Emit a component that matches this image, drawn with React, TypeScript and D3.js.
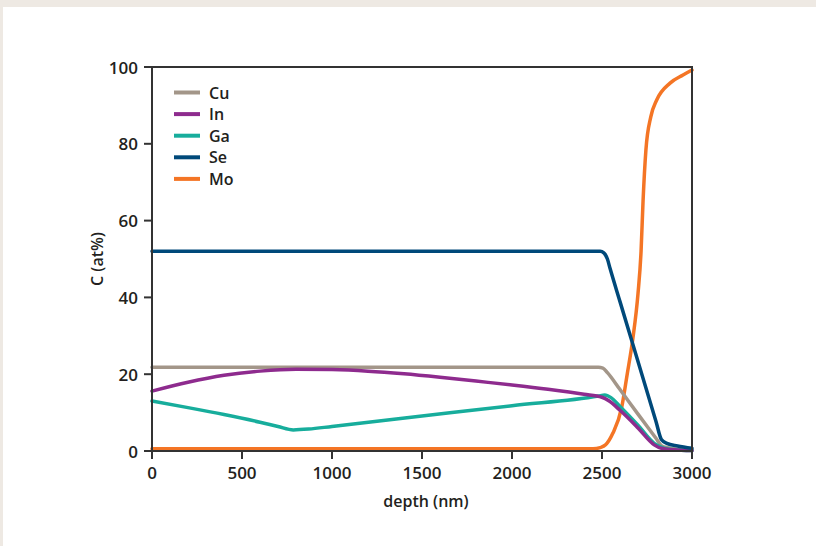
import React from "react";
import * as d3 from "d3";

const xTicks = [0, 500, 1000, 1500, 2000, 2500, 3000];
const yTicks = [0, 20, 40, 60, 80, 100];

const elements = ["Cu", "In", "Ga", "Se", "Mo"];
const colors = ["#a39689", "#8e2b8e", "#17ad9c", "#00497a", "#f47525"];

const cuDepth = [0, 500, 1000, 1500, 2000, 2480, 2505, 2530, 2600, 2700, 2800, 2830, 2870, 2930, 3000];
const cuValue = [21.8, 21.8, 21.8, 21.8, 21.8, 21.8, 21.6, 20.4, 16.0, 9.6, 3.3, 1.4, 0.8, 0.4, 0.2];

const inDepth = [0, 200, 400, 600, 800, 1000, 1200, 1400, 1600, 1800, 2000, 2200, 2400, 2500, 2540, 2600, 2700, 2790, 2830, 2900, 3000];
const inValue = [15.6, 17.9, 19.7, 20.8, 21.3, 21.2, 20.8, 20.1, 19.2, 18.2, 17.2, 16.1, 14.8, 14.0, 13.0, 10.6, 6.0, 1.6, 0.7, 0.3, 0.1];

const gaDepth = [0, 200, 400, 600, 700, 785, 870, 1000, 1500, 2000, 2480, 2515, 2550, 2600, 2700, 2790, 2840, 2900, 3000];
const gaValue = [13.0, 11.3, 9.5, 7.5, 6.4, 5.5, 5.7, 6.4, 9.1, 11.8, 14.3, 14.6, 13.9, 11.6, 6.7, 2.0, 0.8, 0.3, 0.1];

const seDepth = [0, 1000, 2000, 2490, 2510, 2530, 2545, 2600, 2700, 2800, 2830, 2860, 2920, 3000];
const seValue = [52, 52, 52, 52, 51.6, 50, 47.5, 38.9, 23.3, 7.7, 3.0, 2.0, 1.3, 0.7];

const moDepth = [0, 1000, 2000, 2450, 2490, 2520, 2560, 2610, 2640, 2672, 2700, 2717, 2728, 2744, 2771, 2804, 2878, 2950, 3000];
const moValue = [0.6, 0.6, 0.6, 0.6, 0.9, 1.6, 4.6, 11.5, 20.0, 29.5, 41, 52, 65, 78.4, 87, 91.4, 95.8, 97.9, 99.2];

const seriesDepths = [cuDepth, inDepth, gaDepth, seDepth, moDepth];
const seriesValues = [cuValue, inValue, gaValue, seValue, moValue];

const FONT = "'Open Sans', 'DejaVu Sans', sans-serif";
const INK = "#231f20";

export default function App() {
  const W = 816;
  const H = 546;
  const left = 152;
  const right = 692;
  const top = 67;
  const bottom = 451;

  const x = d3.scaleLinear().domain([0, 3000]).range([left, right]);
  const y = d3.scaleLinear().domain([0, 100]).range([bottom, top]);

  const line = d3
    .line<[number, number]>()
    .x((d) => x(d[0]))
    .y((d) => y(d[1]))
    .curve(d3.curveMonotoneX);

  const drawOrder = [4, 0, 2, 1, 3];

  return (
    <div style={{ position: "fixed", left: 0, top: 0, width: W, height: H }}>
      <svg width={W} height={H} style={{ display: "block" }}>
        <rect x={0} y={0} width={W} height={H} fill="#eee9e3" />
        <rect x={3} y={7} width={W - 3} height={H - 7} fill="#ffffff" />

        {drawOrder.map((i) => {
          const pts: [number, number][] = seriesDepths[i].map((d, k) => [d, seriesValues[i][k]]);
          return (
            <path
              key={elements[i]}
              d={line(pts) || ""}
              fill="none"
              stroke={colors[i]}
              strokeWidth={3.5}
              strokeLinejoin="round"
              strokeLinecap="round"
            />
          );
        })}

        <rect
          x={left}
          y={top}
          width={right - left}
          height={bottom - top}
          fill="none"
          stroke="#333333"
          strokeWidth={2}
        />

        {yTicks.map((t) => (
          <g key={"y" + t}>
            <line x1={left - 8} x2={left} y1={y(t)} y2={y(t)} stroke="#333333" strokeWidth={2} />
            <text
              x={left - 14}
              y={y(t)}
              textAnchor="end"
              dominantBaseline="central"
              fontFamily={FONT}
              fontWeight={600}
              fontSize={17}
              fill={INK}
            >
              {t}
            </text>
          </g>
        ))}

        {xTicks.map((t) => (
          <g key={"x" + t}>
            <line x1={x(t)} x2={x(t)} y1={bottom} y2={bottom + 8} stroke="#333333" strokeWidth={2} />
            <text
              x={x(t)}
              y={479}
              textAnchor="middle"
              fontFamily={FONT}
              fontWeight={600}
              fontSize={17}
              fill={INK}
            >
              {t}
            </text>
          </g>
        ))}

        <text
          x={426}
          y={507}
          textAnchor="middle"
          fontFamily={FONT}
          fontWeight={600}
          fontSize={16}
          fill={INK}
        >
          depth (nm)
        </text>

        <text
          transform={`translate(103, 259) rotate(-90)`}
          textAnchor="middle"
          fontFamily={FONT}
          fontWeight={600}
          fontSize={16}
          fill={INK}
        >
          C (at%)
        </text>

        {elements.map((name, i) => {
          const ly = 92.5 + i * 21.6;
          return (
            <g key={"lg" + name}>
              <line x1={174} x2={200} y1={ly} y2={ly} stroke={colors[i]} strokeWidth={4} />
              <text
                x={209}
                y={ly}
                dominantBaseline="central"
                fontFamily={FONT}
                fontWeight={600}
                fontSize={16}
                fill={INK}
              >
                {name}
              </text>
            </g>
          );
        })}
      </svg>
    </div>
  );
}
